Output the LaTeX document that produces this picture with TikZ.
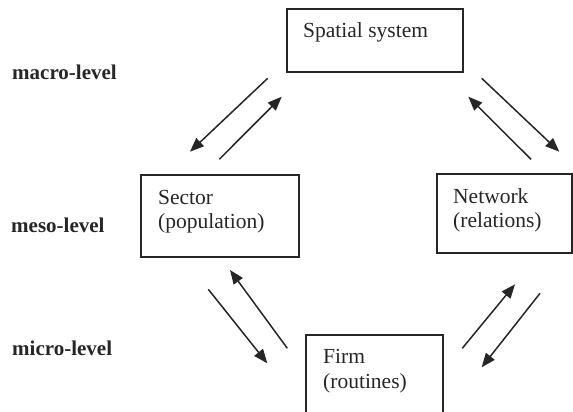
\documentclass[tikz,border=0pt]{standalone}
\usepackage{fontspec}
\setmainfont{Liberation Serif}
\usetikzlibrary{arrows.meta}
\begin{document}
\begin{tikzpicture}[x=1pt,y=-1pt,
  box/.style={draw=black!85,line width=1.5pt},
  txt/.style={anchor=base west,inner sep=0pt,font=\fontsize{21.5}{24}\selectfont,text=black!85},
  lvl/.style={anchor=base west,inner sep=0pt,font=\fontsize{21}{24}\selectfont\bfseries,text=black!85},
  arr/.style={draw=black!85,line width=1.5pt,-{Triangle[length=14pt,width=11pt]}}]
\useasboundingbox (0,0) rectangle (573,412);
\begin{scope}
\clip (0,0) rectangle (573,412);
% boxes
\draw[box] (287,9) rectangle (463,72);
\coordinate (spatial) at (375,40);
\draw[box] (141,175) rectangle (299,257);
\coordinate (sector) at (220,216);
\draw[box] (437,174) rectangle (572.2,253);
\coordinate (network) at (505,213);
\draw[box] (306,335) rectangle (443,430);
\coordinate (firm) at (374,380);
\end{scope}
% texts
\node[txt] (t1) at (303,38) {Spatial system};
\node[txt] (t2) at (158,204) {Sector};
\node[txt] (t3) at (158,228) {(population)};
\node[txt] (t4) at (453,203) {Network};
\node[txt] (t5) at (453,227) {(relations)};
\node[txt] (t6) at (323,363) {Firm};
\node[txt] (t7) at (323,388) {(routines)};
\node[lvl] (l1) at (12,80) {macro-level};
\node[lvl] (l2) at (11,232) {meso-level};
\node[lvl] (l3) at (12,355) {micro-level};
% arrow end points
\coordinate (a1s) at (267.7,78.3); \coordinate (a1e) at (190,151.7);
\coordinate (a2s) at (219.3,159.3); \coordinate (a2e) at (281.7,96.7);
\coordinate (b1s) at (481.7,78.3); \coordinate (b1e) at (559.3,151.7);
\coordinate (b2s) at (531,159.3); \coordinate (b2e) at (468.3,96.7);
\coordinate (c1s) at (208.3,289.3); \coordinate (c1e) at (267.3,363.3);
\coordinate (c2s) at (287.3,348.3); \coordinate (c2e) at (230,270);
\coordinate (d1s) at (462.3,348.3); \coordinate (d1e) at (515,284.3);
\coordinate (d2s) at (540,293.3); \coordinate (d2e) at (481.7,367.3);
\draw[arr] (a1s) -- (a1e);
\draw[arr] (a2s) -- (a2e);
\draw[arr] (b1s) -- (b1e);
\draw[arr] (b2s) -- (b2e);
\draw[arr] (c1s) -- (c1e);
\draw[arr] (c2s) -- (c2e);
\draw[arr] (d1s) -- (d1e);
\draw[arr] (d2s) -- (d2e);
\end{tikzpicture}
\end{document}
